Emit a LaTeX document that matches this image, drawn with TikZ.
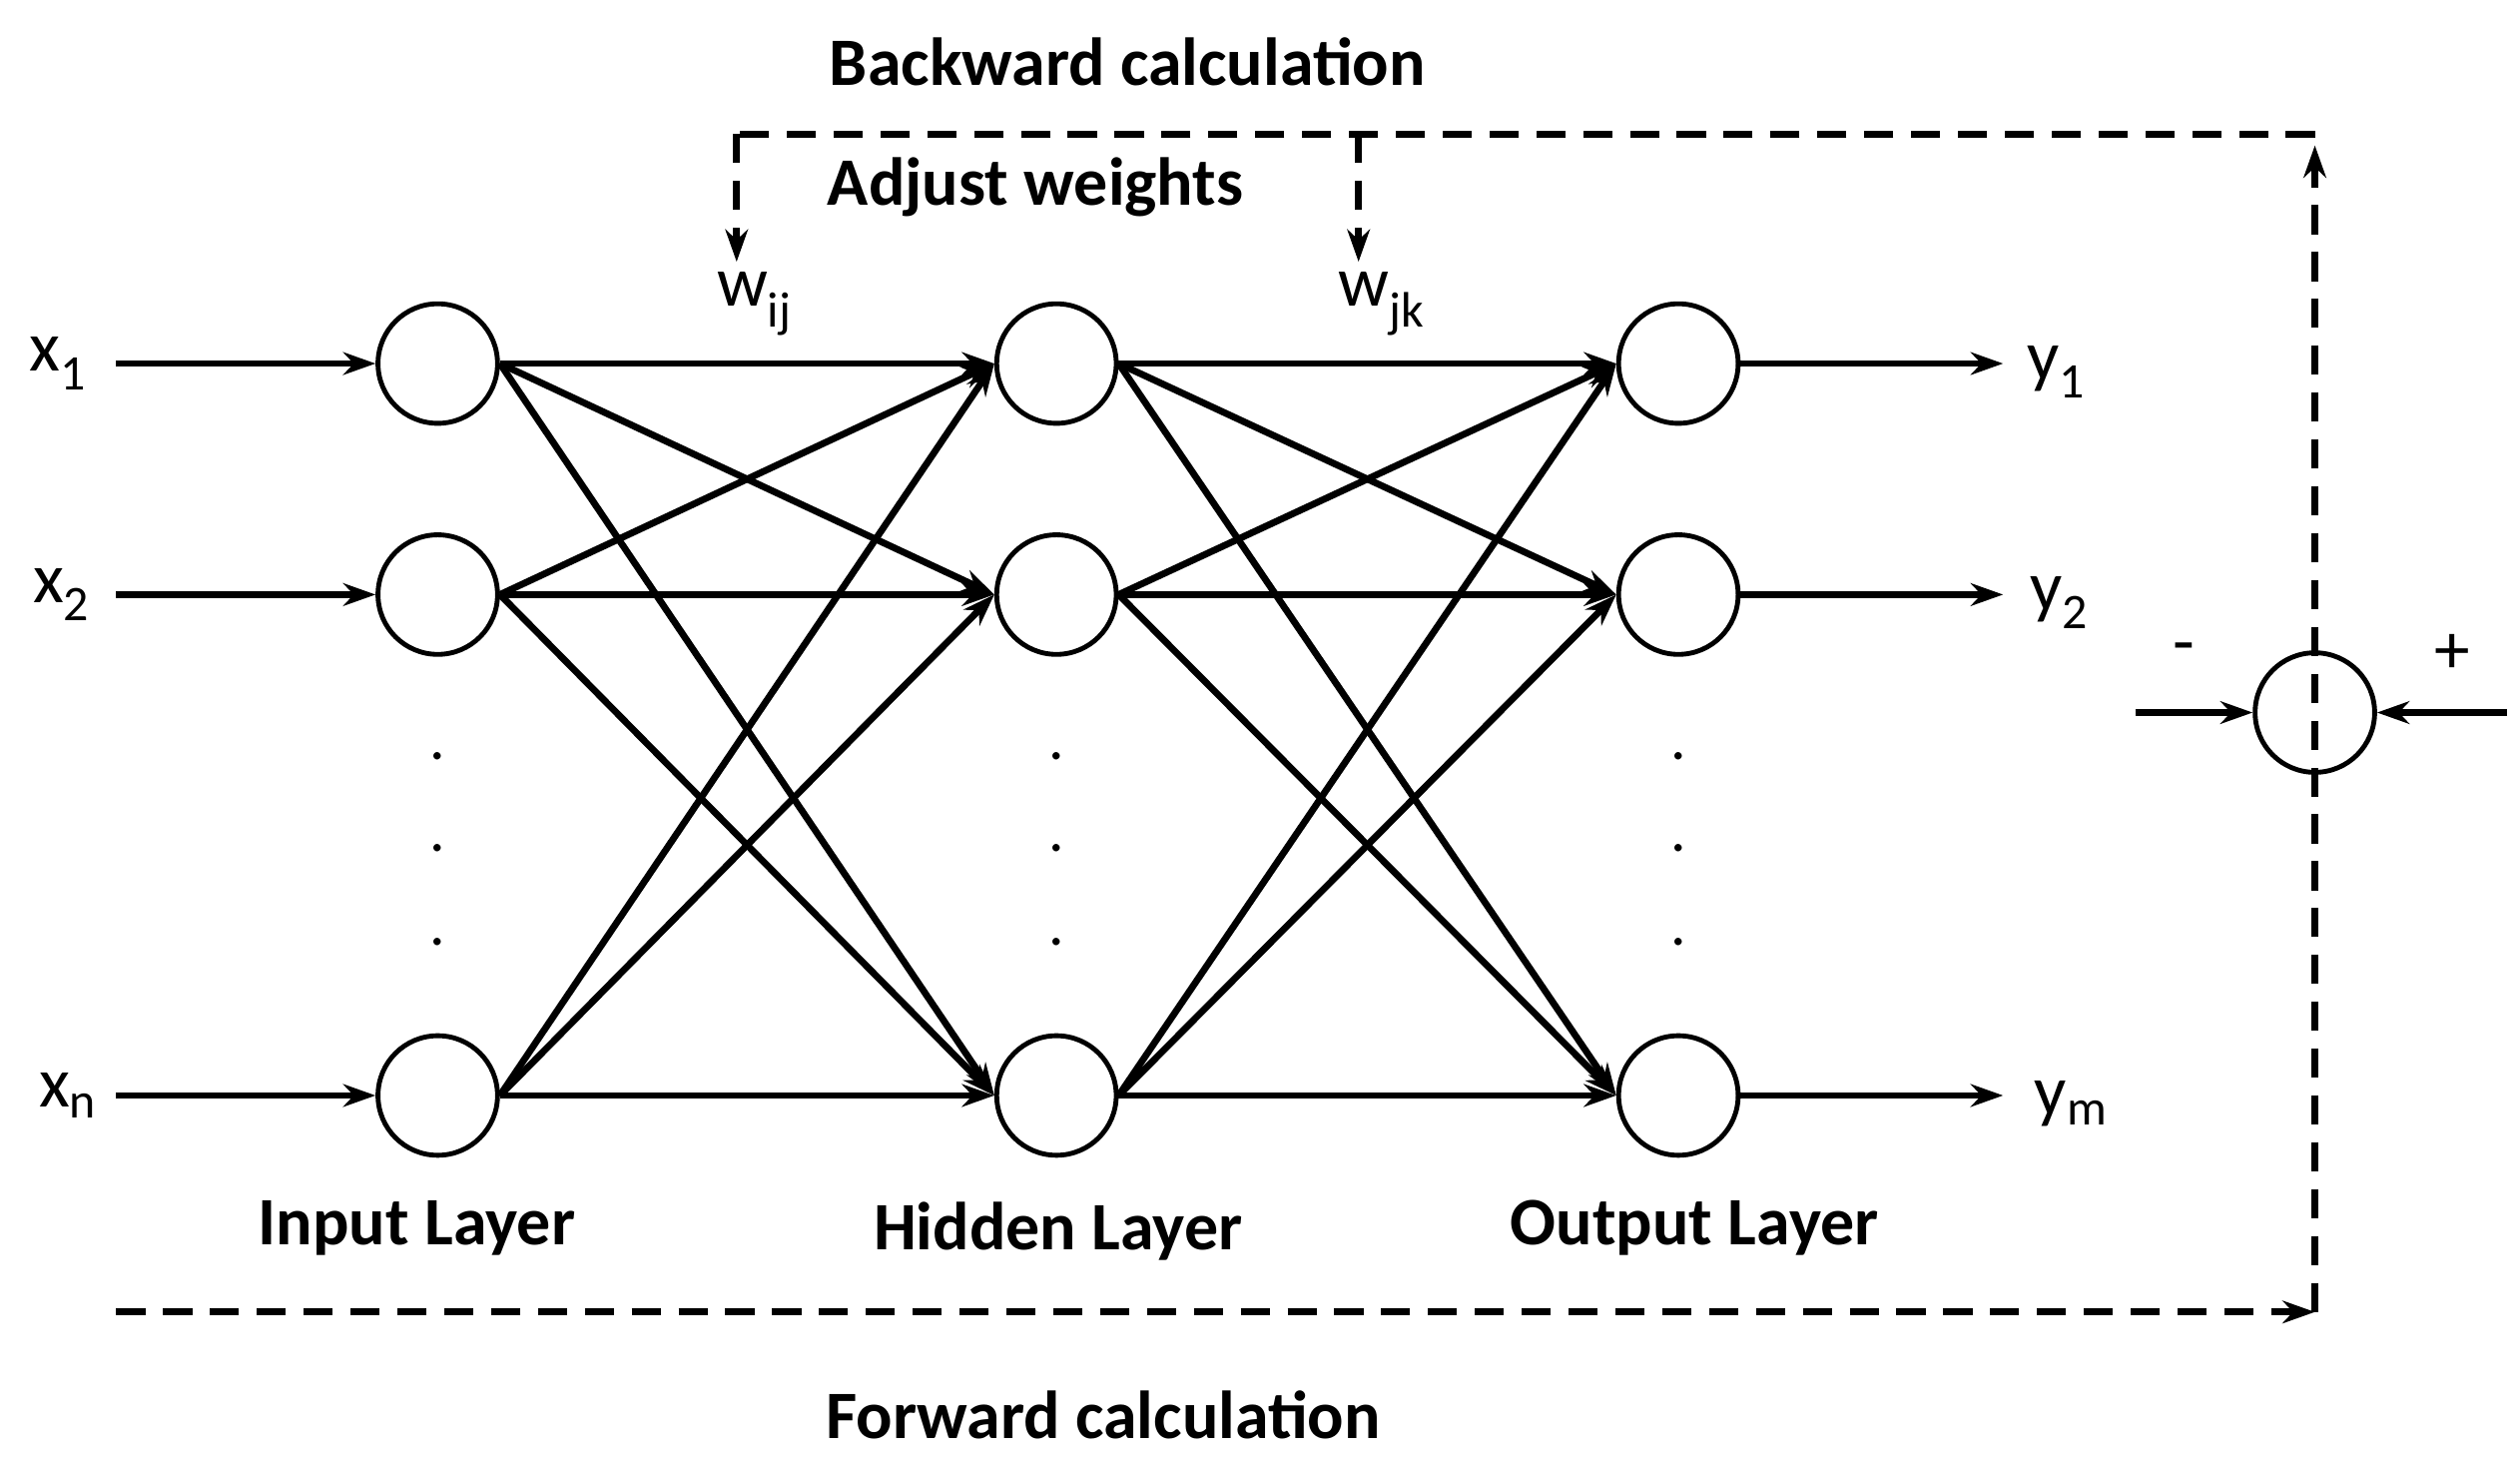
\documentclass[tikz,border=0pt]{standalone}
\usepackage{fontspec}
\setmainfont{Carlito}
\usetikzlibrary{arrows.meta}
\begin{document}
\begin{tikzpicture}[x=1pt,y=-1pt,
  neuron/.style={circle,draw,line width=3pt,minimum size=74pt,inner sep=0pt},
  conn/.style={line width=4.2pt,-{Stealth[length=20pt,width=14pt]}},
  mydash/.style={line width=4.2pt,dash pattern=on 18pt off 11pt},
  dasharr/.style={mydash,-{Stealth[length=20pt,width=14pt]}},
  lab/.style={font=\fontsize{42}{44}\selectfont\bfseries},
  var/.style={font=\fontsize{44}{46}\selectfont},
  dotn/.style={font=\fontsize{38}{38}\selectfont}]
\useasboundingbox (0,0) rectangle (1560,906);
\foreach \n/\x in {i/271,h/654,o/1039}{
  \node[neuron] (\n1) at (\x,225) {};
  \node[neuron] (\n2) at (\x,368) {};
  \node[neuron] (\n3) at (\x,678) {};
  \node[dotn] (\n d1) at (\x,468) {.};
  \node[dotn] (\n d2) at (\x,525) {.};
  \node[dotn] (\n d3) at (\x,583) {.};
}
\node[neuron] (s) at (1433,441) {};
\node[var] (x1) at (36,225) {x$_{\mathrm 1}$};
\node[var] (x2) at (38,368) {x$_{\mathrm 2}$};
\node[var] (x3) at (42,678) {x$_{\mathrm n}$};
\coordinate (xs1) at (72,225);
\coordinate (xs2) at (72,368);
\coordinate (xs3) at (72,678);
\foreach \k in {1,2,3}{ \draw[conn] (xs\k) -- (i\k.west); }
\node[var] (y1) at (1273,230) {y$_{\mathrm 1}$};
\node[var] (y2) at (1275,373) {y$_{\mathrm 2}$};
\node[var] (y3) at (1282,683) {y$_{\mathrm m}$};
\coordinate (ye1) at (1240,225);
\coordinate (ye2) at (1240,368);
\coordinate (ye3) at (1240,678);
\foreach \k in {1,2,3}{ \draw[conn] (o\k.east) -- (ye\k); }
\foreach \a in {1,2,3}{\foreach \b in {1,2,3}{
  \draw[conn] (i\a.east) -- (h\b.west);
  \draw[conn] (h\a.east) -- (o\b.west);
}}
\node[var] (wij) at (467,188) {w$_{\mathrm{ij}}$};
\node[var] (wjk) at (855,188) {w$_{\mathrm{jk}}$};
\node[lab] (bc) at (698,38) {Backward calculation};
\node[lab] (aw) at (641,116) {Adjust weights};
\node[lab] (il) at (258,760) {Input Layer};
\node[lab] (hl) at (655,762) {Hidden Layer};
\node[lab] (ol) at (1049,760) {Output Layer};
\node[lab] (fc) at (683,876) {Forward calculation};
\coordinate (fl) at (72,812);
\coordinate (fr) at (1433,812);
\coordinate (tl) at (456,83);
\coordinate (tm) at (841,83);
\coordinate (tr) at (1433,83);
\coordinate (al) at (456,162);
\coordinate (am) at (841,162);
\coordinate (ar) at (1433,90);
\draw[dasharr] (fl) -- (fr);
\draw[dasharr] (fr) -- (ar);
\draw[mydash] (tr) -- (tl);
\draw[dasharr] (tl) -- (al);
\draw[dasharr] (tm) -- (am);
\coordinate (sl) at (1322,441);
\coordinate (sr) at (1552,441);
\draw[conn] (sl) -- (s.west);
\draw[conn] (sr) -- (s.east);
\node[var] (mi) at (1352,405) {-};
\node[var] (pl) at (1518,405) {+};
\end{tikzpicture}
\end{document}
